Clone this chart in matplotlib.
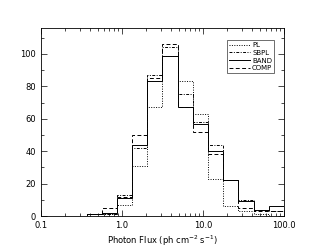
import numpy as np
import matplotlib.pyplot as plt
from matplotlib.ticker import FixedLocator, MultipleLocator, LogLocator, NullFormatter

# log bin edges, 16 bins from 0.1 to 100
edges = 10 ** np.linspace(-1, 2, 17)

pl   = [0, 0, 0, 1, 1, 7, 31, 67, 99, 83, 63, 23, 6, 3, 1, 0]
sbpl = [0, 0, 0, 1, 1, 13, 42, 87, 104, 75, 58, 44, 22, 10, 4, 3]
band = [0, 0, 0, 1, 2, 11, 44, 83, 99, 67, 57, 40, 22, 9, 4, 6]
comp = [0, 0, 0, 1, 5, 12, 50, 85, 106, 67, 52, 38, 22, 5, 3, 3]

fig = plt.figure(figsize=(3.11, 2.49), dpi=100)
ax = fig.add_axes([0.132, 0.1325, 0.781, 0.755])

lw = 0.7
ax.stairs(pl, edges, color='black', lw=lw, ls=(0, (1, 1.5)), label='PL')
ax.stairs(sbpl, edges, color='black', lw=lw, ls=(0, (3, 1.5, 1, 1.5)), label='SBPL')
ax.stairs(band, edges, color='black', lw=lw, ls='-', label='BAND')
ax.stairs(comp, edges, color='black', lw=lw, ls=(0, (4, 2.5)), label='COMP')

ax.set_xscale('log')
ax.set_xlim(0.1, 100)
ax.set_ylim(0, 116)
ax.xaxis.set_major_locator(FixedLocator([0.1, 1, 10, 100]))
ax.set_xticklabels(['0.1', '1.0', '10.0', '100.0'])
ax.xaxis.set_minor_locator(LogLocator(base=10, subs=np.arange(2, 10)))
ax.xaxis.set_minor_formatter(NullFormatter())
ax.yaxis.set_major_locator(MultipleLocator(20))
ax.yaxis.set_minor_locator(MultipleLocator(10))

ax.tick_params(which='both', direction='in', top=True, right=True, labelsize=6, width=0.5)
ax.tick_params(which='major', length=4)
ax.tick_params(which='minor', length=2)
for s in ax.spines.values():
    s.set_linewidth(0.6)

ax.set_xlabel('Photon Flux (ph cm$^{-2}$ s$^{-1}$)', fontsize=6, labelpad=3)

leg = ax.legend(loc='upper right', fontsize=5, handlelength=3.0, frameon=True,
                fancybox=False, edgecolor='black', borderpad=0.3, labelspacing=0.25,
                handletextpad=0.3, bbox_to_anchor=(0.975, 0.955))
leg.get_frame().set_linewidth(0.5)

fig.savefig('out.png', dpi=100)
